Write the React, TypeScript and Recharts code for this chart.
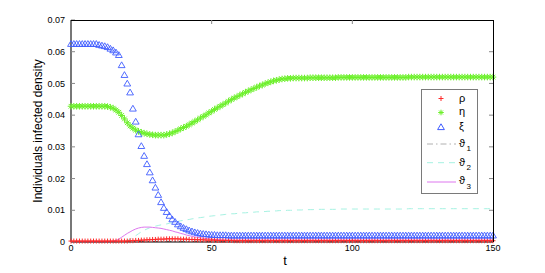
import { ComposedChart, Line, XAxis, YAxis, Legend } from 'recharts'

// sampling grid t = 0..150
const tValues = Array.from({ length: 151 }, (_, i) => i)
const xTicks = [0, 50, 100, 150]
const yTicks = [0, 0.01, 0.02, 0.03, 0.04, 0.05, 0.06, 0.07]

const rho = [
  0.0003, 0.0003, 0.0003, 0.0003, 0.0003, 0.0003, 0.0003, 0.0003, 0.0003, 0.0003,
  0.0003, 0.0003, 0.0003, 0.0003, 0.0003, 0.0003, 0.0003, 0.0003, 0.0003, 0.0003,
  0.0003, 0.0004, 0.0004, 0.0005, 0.0005, 0.0006, 0.0006, 0.0007, 0.0007, 0.0008,
  0.0008, 0.0009, 0.0009, 0.0009, 0.001, 0.001, 0.001, 0.001, 0.001, 0.0009,
  0.0009, 0.0009, 0.0008, 0.0008, 0.0008, 0.0007, 0.0007, 0.0007, 0.0006, 0.0006,
  0.0006, 0.0006, 0.0005, 0.0005, 0.0005, 0.0005, 0.0005, 0.0005, 0.0004, 0.0004,
  0.0004, 0.0004, 0.0004, 0.0004, 0.0004, 0.0004, 0.0004, 0.0004, 0.0004, 0.0004,
  0.0004, 0.0004, 0.0004, 0.0004, 0.0004, 0.0004, 0.0004, 0.0004, 0.0004, 0.0004,
  0.0004, 0.0004, 0.0004, 0.0004, 0.0004, 0.0004, 0.0004, 0.0004, 0.0004, 0.0004,
  0.0004, 0.0004, 0.0004, 0.0004, 0.0004, 0.0004, 0.0004, 0.0004, 0.0004, 0.0004,
  0.0004, 0.0004, 0.0004, 0.0004, 0.0004, 0.0004, 0.0004, 0.0004, 0.0004, 0.0004,
  0.0004, 0.0004, 0.0004, 0.0004, 0.0004, 0.0004, 0.0004, 0.0004, 0.0004, 0.0004,
  0.0004, 0.0004, 0.0004, 0.0004, 0.0004, 0.0004, 0.0004, 0.0004, 0.0004, 0.0004,
  0.0004, 0.0004, 0.0004, 0.0004, 0.0004, 0.0004, 0.0004, 0.0004, 0.0004, 0.0004,
  0.0004, 0.0004, 0.0004, 0.0004, 0.0004, 0.0004, 0.0004, 0.0004, 0.0004, 0.0004,
  0.0004,
]

const eta = [
  0.0428, 0.0428, 0.0428, 0.0428, 0.0428, 0.0428, 0.0428, 0.0428, 0.0428, 0.0428,
  0.0428, 0.0428, 0.0428, 0.0427, 0.0425, 0.0422, 0.0416, 0.0409, 0.0399, 0.0388,
  0.0376, 0.0366, 0.0359, 0.0353, 0.0349, 0.0346, 0.0343, 0.0341, 0.0339, 0.0338,
  0.0337, 0.0337, 0.0337, 0.0337, 0.0339, 0.0341, 0.0344, 0.0348, 0.0352, 0.0357,
  0.0361, 0.0365, 0.037, 0.0375, 0.038, 0.0385, 0.0391, 0.0396, 0.0401, 0.0407,
  0.0412, 0.0418, 0.0423, 0.0428, 0.0433, 0.0438, 0.0444, 0.0449, 0.0454, 0.0458,
  0.0463, 0.0467, 0.0472, 0.0476, 0.048, 0.0484, 0.0488, 0.0492, 0.0495, 0.0499,
  0.0502, 0.0505, 0.0508, 0.051, 0.0512, 0.0514, 0.0515, 0.0516, 0.0516, 0.0517,
  0.0517, 0.0517, 0.0517, 0.0517, 0.0517, 0.0518, 0.0518, 0.0518, 0.0518, 0.0518,
  0.0518, 0.0518, 0.0518, 0.0518, 0.0518, 0.0519, 0.0519, 0.0519, 0.0519, 0.0519,
  0.0519, 0.0519, 0.0519, 0.0519, 0.0519, 0.0519, 0.0519, 0.0519, 0.0519, 0.0519,
  0.0519, 0.0519, 0.0519, 0.0519, 0.0519, 0.0519, 0.0519, 0.0519, 0.0519, 0.0519,
  0.052, 0.052, 0.052, 0.052, 0.052, 0.052, 0.052, 0.052, 0.052, 0.052,
  0.052, 0.052, 0.052, 0.052, 0.052, 0.052, 0.052, 0.052, 0.052, 0.052,
  0.052, 0.052, 0.052, 0.052, 0.052, 0.052, 0.052, 0.052, 0.052, 0.052,
  0.052,
]

const xi = [
  0.0625, 0.0625, 0.0625, 0.0625, 0.0625, 0.0625, 0.0625, 0.0625, 0.0625, 0.0625,
  0.0622, 0.062, 0.0618, 0.0615, 0.061, 0.0605, 0.0598, 0.059, 0.0558, 0.0527,
  0.05, 0.0472, 0.0421, 0.038, 0.034, 0.0303, 0.0272, 0.0246, 0.022, 0.0195,
  0.0172, 0.0149, 0.0126, 0.0108, 0.0095, 0.0083, 0.0072, 0.0064, 0.0056, 0.005,
  0.0045, 0.0041, 0.0037, 0.0034, 0.0031, 0.0029, 0.0027, 0.0026, 0.0025, 0.0024,
  0.0023, 0.0023, 0.0022, 0.0022, 0.0022, 0.0022, 0.0021, 0.0021, 0.0021, 0.0021,
  0.0021, 0.0021, 0.0021, 0.0021, 0.0021, 0.0021, 0.0021, 0.0021, 0.0021, 0.0021,
  0.0021, 0.0021, 0.0021, 0.0021, 0.0021, 0.0021, 0.0021, 0.0021, 0.0021, 0.0021,
  0.0021, 0.0021, 0.0021, 0.0021, 0.0021, 0.0021, 0.0021, 0.0021, 0.0021, 0.0021,
  0.0021, 0.0021, 0.0021, 0.0021, 0.0021, 0.0021, 0.0021, 0.0021, 0.0021, 0.0021,
  0.0021, 0.0021, 0.0021, 0.0021, 0.0021, 0.0021, 0.0021, 0.0021, 0.0021, 0.0021,
  0.0021, 0.0021, 0.0021, 0.0021, 0.0021, 0.0021, 0.0021, 0.0021, 0.0021, 0.0021,
  0.0021, 0.0021, 0.0021, 0.0021, 0.0021, 0.0021, 0.0021, 0.0021, 0.0021, 0.0021,
  0.0021, 0.0021, 0.0021, 0.0021, 0.0021, 0.0021, 0.0021, 0.0021, 0.0021, 0.0021,
  0.0021, 0.0021, 0.0021, 0.0021, 0.0021, 0.0021, 0.0021, 0.0021, 0.0021, 0.0021,
  0.0021,
]

const theta1 = [
  0.0001, 0.0001, 0.0001, 0.0001, 0.0001, 0.0001, 0.0001, 0.0001, 0.0001, 0.0001,
  0.0001, 0.0001, 0.0001, 0.0001, 0.0001, 0.0001, 0.0001, 0.0001, 0.0002, 0.0002,
  0.0002, 0.0002, 0.0002, 0.0002, 0.0002, 0.0002, 0.0002, 0.0002, 0.0002, 0.0002,
  0.0002, 0.0002, 0.0002, 0.0002, 0.0002, 0.0002, 0.0002, 0.0002, 0.0002, 0.0002,
  0.0002, 0.0002, 0.0002, 0.0002, 0.0002, 0.0002, 0.0001, 0.0001, 0.0001, 0.0001,
  0.0001, 0.0001, 0.0001, 0.0001, 0.0001, 0.0001, 0.0001, 0.0001, 0.0001, 0.0001,
  0.0001, 0.0001, 0.0001, 0.0001, 0.0001, 0.0001, 0.0001, 0.0001, 0.0001, 0.0001,
  0.0001, 0.0001, 0.0001, 0.0001, 0.0001, 0.0001, 0.0001, 0.0001, 0.0001, 0.0001,
  0.0001, 0.0001, 0.0001, 0.0001, 0.0001, 0.0001, 0.0001, 0.0001, 0.0001, 0.0001,
  0.0001, 0.0001, 0.0001, 0.0001, 0.0001, 0.0001, 0.0001, 0.0001, 0.0001, 0.0001,
  0.0001, 0.0001, 0.0001, 0.0001, 0.0001, 0.0001, 0.0001, 0.0001, 0.0001, 0.0001,
  0.0001, 0.0001, 0.0001, 0.0001, 0.0001, 0.0001, 0.0001, 0.0001, 0.0001, 0.0001,
  0.0001, 0.0001, 0.0001, 0.0001, 0.0001, 0.0001, 0.0001, 0.0001, 0.0001, 0.0001,
  0.0001, 0.0001, 0.0001, 0.0001, 0.0001, 0.0001, 0.0001, 0.0001, 0.0001, 0.0001,
  0.0001, 0.0001, 0.0001, 0.0001, 0.0001, 0.0001, 0.0001, 0.0001, 0.0001, 0.0001,
  0.0001,
]

const theta2 = [
  0.0001, 0.0001, 0.0001, 0.0001, 0.0001, 0.0001, 0.0001, 0.0001, 0.0001, 0.0001,
  0.0001, 0.0001, 0.0001, 0.0001, 0.0001, 0.0001, 0.0001, 0.0001, 0.0002, 0.0003,
  0.0005, 0.0009, 0.0014, 0.002, 0.0026, 0.0032, 0.0037, 0.0041, 0.0045, 0.0048,
  0.005, 0.0052, 0.0054, 0.0056, 0.0057, 0.0059, 0.0061, 0.0063, 0.0065, 0.0067,
  0.0068, 0.007, 0.0071, 0.0073, 0.0074, 0.0076, 0.0077, 0.0078, 0.008, 0.0081,
  0.0082, 0.0083, 0.0084, 0.0085, 0.0086, 0.0087, 0.0088, 0.0089, 0.0089, 0.009,
  0.0091, 0.0092, 0.0092, 0.0093, 0.0094, 0.0094, 0.0095, 0.0095, 0.0096, 0.0096,
  0.0097, 0.0097, 0.0098, 0.0098, 0.0099, 0.0099, 0.0099, 0.01, 0.01, 0.01,
  0.0101, 0.0101, 0.0101, 0.0102, 0.0102, 0.0102, 0.0102, 0.0103, 0.0103, 0.0103,
  0.0103, 0.0103, 0.0103, 0.0103, 0.0103, 0.0104, 0.0104, 0.0104, 0.0104, 0.0104,
  0.0104, 0.0104, 0.0104, 0.0104, 0.0104, 0.0104, 0.0104, 0.0104, 0.0104, 0.0104,
  0.0104, 0.0104, 0.0104, 0.0104, 0.0104, 0.0104, 0.0104, 0.0104, 0.0104, 0.0104,
  0.0105, 0.0105, 0.0105, 0.0105, 0.0105, 0.0105, 0.0105, 0.0105, 0.0105, 0.0105,
  0.0105, 0.0105, 0.0105, 0.0105, 0.0105, 0.0105, 0.0105, 0.0105, 0.0105, 0.0105,
  0.0105, 0.0105, 0.0105, 0.0105, 0.0105, 0.0105, 0.0105, 0.0105, 0.0105, 0.0105,
  0.0105,
]

const theta3 = [
  0.0001, 0.0001, 0.0001, 0.0001, 0.0001, 0.0001, 0.0001, 0.0001, 0.0001, 0.0001,
  0.0001, 0.0001, 0.0001, 0.0001, 0.0001, 0.0003, 0.0005, 0.0009, 0.0015, 0.0021,
  0.0027, 0.0032, 0.0037, 0.0041, 0.0044, 0.0046, 0.0047, 0.0047, 0.0047, 0.0046,
  0.0045, 0.0044, 0.0043, 0.0041, 0.0039, 0.0037, 0.0035, 0.0032, 0.003, 0.0027,
  0.0025, 0.0022, 0.002, 0.0018, 0.0016, 0.0015, 0.0013, 0.0012, 0.0011, 0.001,
  0.0009, 0.0008, 0.0008, 0.0007, 0.0007, 0.0006, 0.0006, 0.0006, 0.0006, 0.0006,
  0.0006, 0.0006, 0.0006, 0.0006, 0.0006, 0.0006, 0.0006, 0.0006, 0.0006, 0.0006,
  0.0006, 0.0006, 0.0006, 0.0006, 0.0006, 0.0006, 0.0006, 0.0006, 0.0006, 0.0006,
  0.0006, 0.0006, 0.0006, 0.0006, 0.0006, 0.0006, 0.0006, 0.0006, 0.0006, 0.0006,
  0.0006, 0.0006, 0.0006, 0.0006, 0.0006, 0.0006, 0.0006, 0.0006, 0.0006, 0.0006,
  0.0006, 0.0006, 0.0006, 0.0006, 0.0006, 0.0006, 0.0006, 0.0006, 0.0006, 0.0006,
  0.0006, 0.0006, 0.0006, 0.0006, 0.0006, 0.0006, 0.0006, 0.0006, 0.0006, 0.0006,
  0.0006, 0.0006, 0.0006, 0.0006, 0.0006, 0.0006, 0.0006, 0.0006, 0.0006, 0.0006,
  0.0006, 0.0006, 0.0006, 0.0006, 0.0006, 0.0006, 0.0006, 0.0006, 0.0006, 0.0006,
  0.0006, 0.0006, 0.0006, 0.0006, 0.0006, 0.0006, 0.0006, 0.0006, 0.0006, 0.0006,
  0.0006,
]

const rows = tValues.map((t, i) => ({
  t,
  rho: rho[i],
  eta: eta[i],
  xi: xi[i],
  th1: theta1[i],
  th2: theta2[i],
  th3: theta3[i],
}))

const RED = '#ff2a2a'
const GREEN = '#6cf02a'
const BLUE = '#3f5cff'
const CYAN = '#a6f2e2'
const VIOLET = '#dd77ee'
const FONT = '"Liberation Sans", Arial, "DejaVu Sans", sans-serif'

const X_MAX = 150
const Y_MAX = 0.07

// plot box (matches the chart margins and axis sizes below)
const BOX = { left: 71, top: 20, width: 422, height: 222 }

const plusPath = (cx: number, cy: number, r = 2.5) => `M${cx - r},${cy}H${cx + r}M${cx},${cy - r}V${cy + r}`
const starPath = (cx: number, cy: number, r = 3.3) => {
  const d = r * 0.7
  return `M${cx - r},${cy}H${cx + r}M${cx},${cy - r}V${cy + r}M${cx - d},${cy - d}L${cx + d},${cy + d}M${cx - d},${cy + d}L${cx + d},${cy - d}`
}
const triPath = (cx: number, cy: number) => `M${cx},${cy - 3.2}L${cx + 3.4},${cy + 2.6}L${cx - 3.4},${cy + 2.6}Z`

const plusDot = (p: any) => (
  <path key={`r${p.index}`} d={plusPath(p.cx, p.cy)} stroke={RED} strokeWidth={1} fill="none" />
)
const starDot = (p: any) => (
  <path key={`g${p.index}`} d={starPath(p.cx, p.cy)} stroke={GREEN} strokeWidth={1} fill="none" />
)
const triDot = (p: any) => (
  <path key={`b${p.index}`} d={triPath(p.cx, p.cy)} stroke={BLUE} strokeWidth={0.9} fill="none" />
)

function LegendBox() {
  return (
    <svg width={57} height={105} style={{ fontFamily: FONT }}>
      <rect x={0.5} y={0.5} width={56} height={104} fill="#fff" stroke="#7a7a7a" />
      <path d={plusPath(20, 9.5)} stroke={RED} fill="none" />
      <text x={38} y={12.5} fontSize={11}>ρ</text>
      <path d={starPath(20, 23.5, 2.8)} stroke={GREEN} fill="none" />
      <text x={38} y={26} fontSize={11}>η</text>
      <path d={triPath(20, 38)} stroke={BLUE} fill="none" />
      <text x={38} y={40.5} fontSize={11}>ξ</text>
      <line x1={6} x2={35} y1={55} y2={55} stroke="#b0b0b0" strokeDasharray="6 3 1.5 3" />
      <text x={38} y={57.5} fontSize={11}>ϑ</text>
      <text x={45.5} y={62} fontSize={8}>1</text>
      <line x1={6} x2={35} y1={73.7} y2={73.7} stroke={CYAN} strokeDasharray="6 5" />
      <text x={38} y={76.5} fontSize={11}>ϑ</text>
      <text x={45.5} y={81} fontSize={8}>2</text>
      <line x1={6} x2={35} y1={93} y2={93} stroke={VIOLET} />
      <text x={38} y={95} fontSize={11}>ϑ</text>
      <text x={45.5} y={99.5} fontSize={8}>3</text>
    </svg>
  )
}

// top and right edges of the box, with inward ticks
function Frame() {
  const right = BOX.left + BOX.width
  const top = BOX.top
  return (
    <svg width={545} height={273} style={{ position: 'absolute', left: 0, top: 0, pointerEvents: 'none' }}>
      <line x1={BOX.left} x2={right + 0.5} y1={top + 0.5} y2={top + 0.5} stroke="#000" />
      <line x1={right + 0.5} x2={right + 0.5} y1={top} y2={top + BOX.height} stroke="#000" />
      {xTicks.slice(1, -1).map((v) => {
        const x = BOX.left + (v / X_MAX) * BOX.width
        return <line key={`tt${v}`} x1={x} x2={x} y1={top} y2={top + 4} stroke="#888" />
      })}
      {yTicks.slice(1, -1).map((v) => {
        const y = top + BOX.height - (v / Y_MAX) * BOX.height
        return <line key={`rt${v}`} x1={right - 4} x2={right} y1={y} y2={y} stroke="#888" />
      })}
    </svg>
  )
}

const yLabel = (props: any) => {
  const vb = props.viewBox
  const cy = vb.y + vb.height / 2
  return (
    <text x={38} y={cy} transform={`rotate(-90 38 ${cy})`} textAnchor="middle" dominantBaseline="central" fontSize={12} fill="#000">
      Individuals infected density
    </text>
  )
}

export default function App() {
  return (
    <div style={{ position: 'absolute', left: 0, top: 0, width: 545, height: 273, background: '#fff', fontFamily: FONT }}>
      <ComposedChart width={545} height={273} data={rows} margin={{ top: 20, right: 52, bottom: 0, left: 0 }}>
        <XAxis
          dataKey="t"
          type="number"
          domain={[0, X_MAX]}
          ticks={xTicks}
          height={31}
          tickSize={-4}
          tickMargin={7}
          axisLine={{ stroke: '#000' }}
          tickLine={{ stroke: '#888' }}
          tick={{ fill: '#000', fontSize: 9 }}
          label={{ value: 't', position: 'insideBottom', offset: 8, dx: 3, fontSize: 13, fill: '#000' }}
        />
        <YAxis
          type="number"
          domain={[0, Y_MAX]}
          ticks={yTicks}
          width={71}
          tickSize={-4}
          tickMargin={10}
          axisLine={{ stroke: '#777', strokeWidth: 2 }}
          tickLine={{ stroke: '#888' }}
          tick={{ fill: '#000', fontSize: 9 }}
          tickFormatter={(v: number) => (v === 0 ? '0' : v.toFixed(2))}
          label={{ content: yLabel }}
        />
        <Line dataKey="rho" stroke="none" dot={plusDot} activeDot={false} isAnimationActive={false} />
        <Line dataKey="eta" stroke="none" dot={starDot} activeDot={false} isAnimationActive={false} />
        <Line dataKey="xi" stroke="none" dot={triDot} activeDot={false} isAnimationActive={false} />
        <Line dataKey="th1" type="linear" stroke="#777" strokeWidth={1} strokeDasharray="6 3 1.5 3" dot={false} activeDot={false} isAnimationActive={false} />
        <Line dataKey="th2" type="linear" stroke={CYAN} strokeWidth={1} strokeDasharray="6 5" dot={false} activeDot={false} isAnimationActive={false} />
        <Line dataKey="th3" type="linear" stroke={VIOLET} strokeWidth={1} dot={false} activeDot={false} isAnimationActive={false} />
        <Legend
          layout="horizontal"
          verticalAlign="middle"
          align="center"
          content={() => <LegendBox />}
          wrapperStyle={{ left: 421, top: 89, width: 57, height: 105 }}
        />
      </ComposedChart>
      <Frame />
    </div>
  )
}
